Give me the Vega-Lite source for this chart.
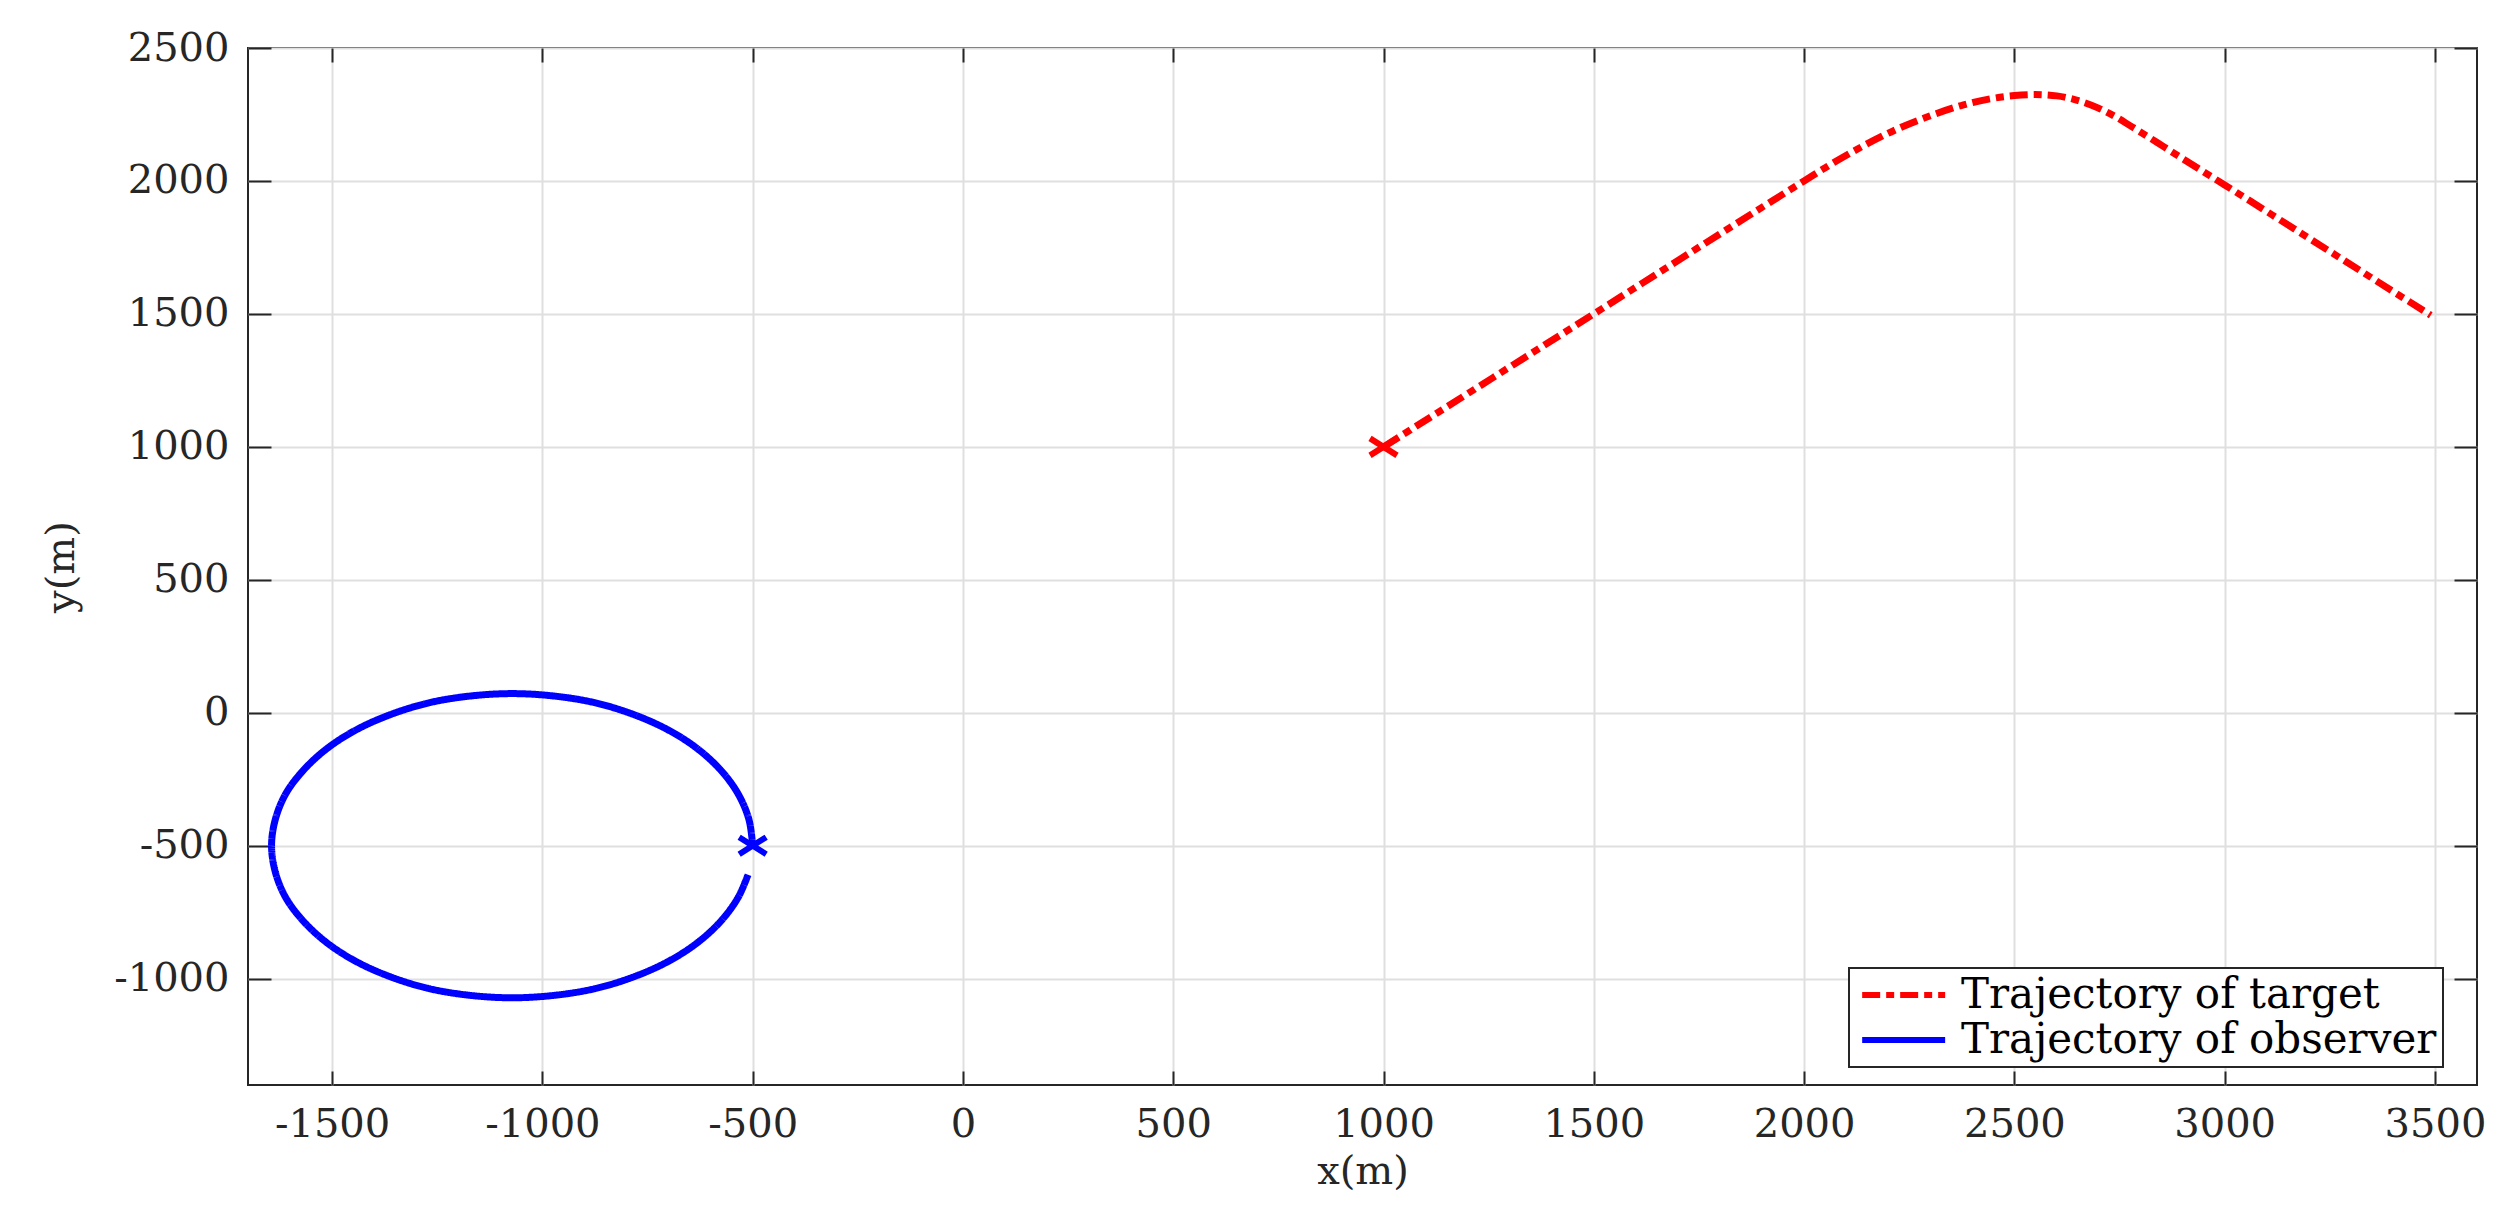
{
  "$schema": "https://vega.github.io/schema/vega-lite/v6.json",
  "width": 2229,
  "height": 1037,
  "autosize": {"type": "none"},
  "padding": {"left": 248, "top": 48, "right": 43, "bottom": 131},
  "background": "white",
  "config": {
    "view": {"stroke": "#262626", "strokeWidth": 2},
    "font": "DejaVu Serif",
    "axis": {
      "labelFont": "DejaVu Serif",
      "titleFont": "DejaVu Serif",
      "labelFontSize": 40,
      "titleFontSize": 40,
      "titleFontWeight": "normal",
      "labelColor": "#262626",
      "titleColor": "#262626",
      "gridColor": "#dfdfdf",
      "gridWidth": 2,
      "gridOpacity": 1,
      "tickColor": "#262626",
      "tickWidth": 2,
      "domain": false,
      "labelOverlap": false,
      "labelFlush": false
    },
    "legend": {
      "strokeColor": "#262626",
      "strokeWidth": 2,
      "fillColor": "white",
      "padding": 6,
      "rowPadding": 3,
      "labelFont": "DejaVu Serif",
      "labelFontSize": 42,
      "labelColor": "#000000",
      "labelLimit": 2000,
      "symbolStrokeWidth": 6
    }
  },
  "datasets": {
    "target": [
      {"i": 0, "x": 1000, "y": 1000, "series": "Trajectory of target"},
      {"i": 1, "x": 1500, "y": 1500, "series": "Trajectory of target"},
      {"i": 2, "x": 2000, "y": 2000, "series": "Trajectory of target"},
      {"i": 3, "x": 2062, "y": 2061, "series": "Trajectory of target"},
      {"i": 4, "x": 2141, "y": 2132, "series": "Trajectory of target"},
      {"i": 5, "x": 2221, "y": 2195, "series": "Trajectory of target"},
      {"i": 6, "x": 2300, "y": 2245, "series": "Trajectory of target"},
      {"i": 7, "x": 2379, "y": 2286, "series": "Trajectory of target"},
      {"i": 8, "x": 2450, "y": 2311, "series": "Trajectory of target"},
      {"i": 9, "x": 2500, "y": 2321, "series": "Trajectory of target"},
      {"i": 10, "x": 2549, "y": 2325, "series": "Trajectory of target"},
      {"i": 11, "x": 2601, "y": 2320, "series": "Trajectory of target"},
      {"i": 12, "x": 2652, "y": 2302, "series": "Trajectory of target"},
      {"i": 13, "x": 2700, "y": 2274, "series": "Trajectory of target"},
      {"i": 14, "x": 2740, "y": 2242, "series": "Trajectory of target"},
      {"i": 15, "x": 2775, "y": 2208, "series": "Trajectory of target"},
      {"i": 16, "x": 2815, "y": 2169, "series": "Trajectory of target"},
      {"i": 17, "x": 2854, "y": 2130, "series": "Trajectory of target"},
      {"i": 18, "x": 2926, "y": 2058, "series": "Trajectory of target"},
      {"i": 19, "x": 3000, "y": 1985, "series": "Trajectory of target"},
      {"i": 20, "x": 3168, "y": 1817, "series": "Trajectory of target"},
      {"i": 21, "x": 3356, "y": 1629, "series": "Trajectory of target"},
      {"i": 22, "x": 3490, "y": 1495, "series": "Trajectory of target"}
    ],
    "observer": [
      {"i": 0, "x": -500, "y": -500, "series": "Trajectory of observer"},
      {"i": 1, "x": -509, "y": -401, "series": "Trajectory of observer"},
      {"i": 2, "x": -535, "y": -304, "series": "Trajectory of observer"},
      {"i": 3, "x": -577, "y": -214, "series": "Trajectory of observer"},
      {"i": 4, "x": -634, "y": -132, "series": "Trajectory of observer"},
      {"i": 5, "x": -704, "y": -62, "series": "Trajectory of observer"},
      {"i": 6, "x": -786, "y": -5, "series": "Trajectory of observer"},
      {"i": 7, "x": -876, "y": 38, "series": "Trajectory of observer"},
      {"i": 8, "x": -973, "y": 63, "series": "Trajectory of observer"},
      {"i": 9, "x": -1072, "y": 72, "series": "Trajectory of observer"},
      {"i": 10, "x": -1171, "y": 63, "series": "Trajectory of observer"},
      {"i": 11, "x": -1268, "y": 38, "series": "Trajectory of observer"},
      {"i": 12, "x": -1358, "y": -5, "series": "Trajectory of observer"},
      {"i": 13, "x": -1440, "y": -62, "series": "Trajectory of observer"},
      {"i": 14, "x": -1510, "y": -132, "series": "Trajectory of observer"},
      {"i": 15, "x": -1567, "y": -214, "series": "Trajectory of observer"},
      {"i": 16, "x": -1610, "y": -304, "series": "Trajectory of observer"},
      {"i": 17, "x": -1635, "y": -401, "series": "Trajectory of observer"},
      {"i": 18, "x": -1644, "y": -500, "series": "Trajectory of observer"},
      {"i": 19, "x": -1635, "y": -599, "series": "Trajectory of observer"},
      {"i": 20, "x": -1610, "y": -696, "series": "Trajectory of observer"},
      {"i": 21, "x": -1567, "y": -786, "series": "Trajectory of observer"},
      {"i": 22, "x": -1510, "y": -868, "series": "Trajectory of observer"},
      {"i": 23, "x": -1440, "y": -938, "series": "Trajectory of observer"},
      {"i": 24, "x": -1358, "y": -995, "series": "Trajectory of observer"},
      {"i": 25, "x": -1268, "y": -1038, "series": "Trajectory of observer"},
      {"i": 26, "x": -1171, "y": -1063, "series": "Trajectory of observer"},
      {"i": 27, "x": -1072, "y": -1072, "series": "Trajectory of observer"},
      {"i": 28, "x": -973, "y": -1063, "series": "Trajectory of observer"},
      {"i": 29, "x": -876, "y": -1038, "series": "Trajectory of observer"},
      {"i": 30, "x": -786, "y": -995, "series": "Trajectory of observer"},
      {"i": 31, "x": -704, "y": -938, "series": "Trajectory of observer"},
      {"i": 32, "x": -634, "y": -868, "series": "Trajectory of observer"},
      {"i": 33, "x": -577, "y": -786, "series": "Trajectory of observer"},
      {"i": 34, "x": -535, "y": -696, "series": "Trajectory of observer"},
      {"i": 35, "x": -511, "y": -609, "series": "Trajectory of observer"}
    ],
    "targetStart": [{"x": 1000, "y": 1000}],
    "observerStart": [{"x": -500, "y": -500}]
  },
  "resolve": {"axis": {"x": "independent", "y": "independent"}},
  "layer": [
    {
      "data": {"name": "target"},
      "mark": {"type": "line", "strokeWidth": 7, "strokeCap": "butt", "interpolate": "monotone"},
      "encoding": {
        "x": {
          "field": "x", "type": "quantitative",
          "scale": {"domain": [-1700, 3600], "nice": false, "zero": false},
          "axis": {
            "orient": "bottom", "title": "x(m)",
            "values": [-1500, -1000, -500, 0, 500, 1000, 1500, 2000, 2500, 3000, 3500],
            "tickSize": -14, "labelPadding": 33, "titlePadding": 7,
            "labelExpr": "'' + datum.value", "grid": true
          }
        },
        "y": {
          "field": "y", "type": "quantitative",
          "scale": {"domain": [-1400, 2500], "nice": false, "zero": false},
          "axis": {
            "orient": "left", "title": "y(m)",
            "values": [-1000, -500, 0, 500, 1000, 1500, 2000, 2500],
            "tickSize": -23, "labelPadding": 42, "titlePadding": 32,
            "labelExpr": "'' + datum.value", "grid": true
          }
        },
        "order": {"field": "i", "type": "quantitative"},
        "color": {
          "field": "series", "type": "nominal",
          "scale": {"domain": ["Trajectory of target", "Trajectory of observer"], "range": ["#ff0000", "#0000ff"]},
          "legend": {
            "title": null, "orient": "none", "legendX": 1601, "legendY": 920,
            "symbolType": "M-1,0H5", "symbolSize": 765, "labelOffset": 64
          }
        },
        "strokeDash": {
          "field": "series", "type": "nominal",
          "scale": {"domain": ["Trajectory of target", "Trajectory of observer"], "range": [[18, 6, 8, 6], [1, 0]]},
          "legend": {
            "title": null, "orient": "none", "legendX": 1601, "legendY": 920,
            "symbolType": "M-1,0H5", "symbolSize": 765, "labelOffset": 64
          }
        }
      }
    },
    {
      "data": {"name": "observer"},
      "mark": {"type": "line", "strokeWidth": 7, "interpolate": "catmull-rom"},
      "encoding": {
        "x": {
          "field": "x", "type": "quantitative",
          "axis": {
            "orient": "top", "title": null, "labels": false, "grid": false,
            "values": [-1500, -1000, -500, 0, 500, 1000, 1500, 2000, 2500, 3000, 3500],
            "tickSize": -14
          }
        },
        "y": {
          "field": "y", "type": "quantitative",
          "axis": {
            "orient": "right", "title": null, "labels": false, "grid": false,
            "values": [-1000, -500, 0, 500, 1000, 1500, 2000, 2500],
            "tickSize": -23
          }
        },
        "order": {"field": "i", "type": "quantitative"},
        "color": {"field": "series", "type": "nominal"},
        "strokeDash": {"field": "series", "type": "nominal"}
      }
    },
    {
      "data": {"name": "targetStart"},
      "mark": {"type": "point", "shape": "M-1,-0.63L1,0.63M-1,0.63L1,-0.63", "size": 729, "filled": false, "stroke": "#ff0000", "strokeWidth": 6, "opacity": 1},
      "encoding": {
        "x": {"field": "x", "type": "quantitative", "axis": null},
        "y": {"field": "y", "type": "quantitative", "axis": null}
      }
    },
    {
      "data": {"name": "observerStart"},
      "mark": {"type": "point", "shape": "M-1,-0.63L1,0.63M-1,0.63L1,-0.63", "size": 729, "filled": false, "stroke": "#0000ff", "strokeWidth": 6, "opacity": 1},
      "encoding": {
        "x": {"field": "x", "type": "quantitative", "axis": null},
        "y": {"field": "y", "type": "quantitative", "axis": null}
      }
    }
  ]
}
